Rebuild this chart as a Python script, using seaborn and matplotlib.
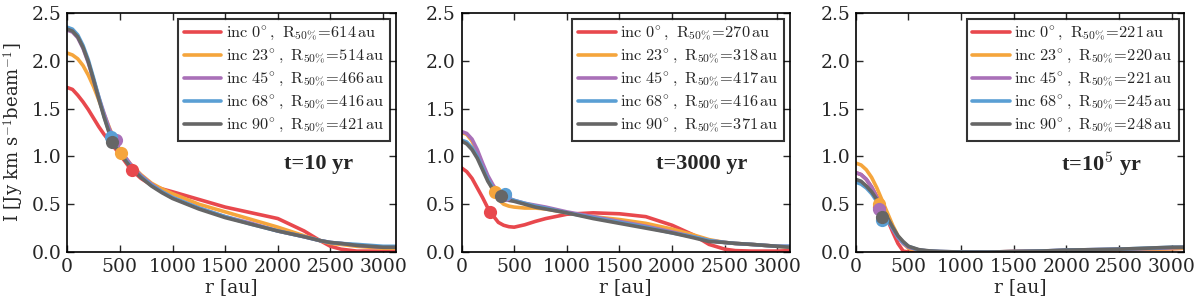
import numpy as np
import matplotlib
matplotlib.use("Agg")
import matplotlib.pyplot as plt
import seaborn as sns

# inclinations and colours
incs = [0, 23, 45, 68, 90]
colors = ["#e8484d", "#f5a53c", "#a970b8", "#5a9fd4", "#666666"]
times = ["t=10 yr", "t=3000 yr", r"t=10$^{\mathbf{5}}$ yr"]

# ---- panel 1: t = 10 yr ----
r1 = [0, 50, 100, 150, 200, 250, 300, 350, 400, 450, 500, 600, 700, 800, 900, 1000,
      1250, 1500, 1750, 2000, 2250, 2400, 2500, 2600, 2750, 3000, 3120]
p1_red = [1.72, 1.70, 1.64, 1.57, 1.49, 1.40, 1.31, 1.23, 1.16, 1.09, 1.02, 0.87, 0.77, 0.70, 0.66, 0.63,
          0.55, 0.47, 0.41, 0.35, 0.22, 0.12, 0.06, 0.03, 0.01, 0.01, 0.015]
p1_orange = [2.08, 2.06, 2.02, 1.95, 1.85, 1.73, 1.59, 1.44, 1.30, 1.17, 1.06, 0.92, 0.81, 0.72, 0.66, 0.61,
             0.50, 0.42, 0.34, 0.26, 0.17, 0.12, 0.09, 0.08, 0.06, 0.04, 0.04]
p1_purple = [2.32, 2.30, 2.24, 2.13, 1.98, 1.80, 1.62, 1.45, 1.29, 1.17, 1.07, 0.92, 0.80, 0.71, 0.63, 0.57,
             0.46, 0.37, 0.30, 0.22, 0.16, 0.12, 0.10, 0.09, 0.07, 0.05, 0.05]
p1_blue = [2.35, 2.33, 2.27, 2.16, 2.01, 1.82, 1.62, 1.42, 1.25, 1.13, 1.04, 0.90, 0.79, 0.70, 0.63, 0.57,
           0.46, 0.37, 0.29, 0.22, 0.16, 0.12, 0.10, 0.09, 0.08, 0.06, 0.06]
p1_grey = [2.33, 2.31, 2.25, 2.14, 1.99, 1.80, 1.60, 1.41, 1.24, 1.12, 1.03, 0.89, 0.78, 0.69, 0.62, 0.56,
           0.45, 0.36, 0.29, 0.22, 0.16, 0.12, 0.10, 0.09, 0.07, 0.05, 0.05]
p1_r50 = [614, 514, 466, 416, 421]
p1_i50 = [0.86, 1.04, 1.17, 1.20, 1.15]

# ---- panel 2: t = 3000 yr ----
r2 = [0, 50, 100, 150, 200, 250, 300, 350, 400, 450, 500, 600, 700, 800, 1000,
      1250, 1500, 1750, 2000, 2200, 2350, 2500, 2600, 2750, 3000, 3120]
p2_red = [0.88, 0.84, 0.77, 0.67, 0.57, 0.46, 0.38, 0.31, 0.28, 0.265, 0.26, 0.285, 0.32, 0.35, 0.395,
          0.41, 0.40, 0.37, 0.28, 0.18, 0.08, 0.03, 0.015, 0.01, 0.01, 0.015]
p2_orange = [1.25, 1.23, 1.16, 1.05, 0.91, 0.77, 0.64, 0.55, 0.50, 0.48, 0.47, 0.46, 0.46, 0.45, 0.41,
             0.37, 0.34, 0.30, 0.24, 0.18, 0.13, 0.10, 0.09, 0.08, 0.06, 0.05]
p2_purple = [1.26, 1.24, 1.18, 1.07, 0.93, 0.80, 0.70, 0.62, 0.58, 0.56, 0.54, 0.51, 0.49, 0.47, 0.42,
             0.37, 0.32, 0.27, 0.21, 0.16, 0.12, 0.10, 0.09, 0.08, 0.06, 0.06]
p2_blue = [1.17, 1.15, 1.09, 1.00, 0.88, 0.76, 0.67, 0.62, 0.59, 0.56, 0.54, 0.51, 0.48, 0.46, 0.41,
           0.36, 0.31, 0.26, 0.20, 0.16, 0.12, 0.10, 0.09, 0.08, 0.06, 0.06]
p2_grey = [1.16, 1.13, 1.07, 0.98, 0.86, 0.74, 0.65, 0.59, 0.56, 0.54, 0.53, 0.50, 0.47, 0.45, 0.41,
           0.35, 0.30, 0.25, 0.20, 0.15, 0.11, 0.10, 0.09, 0.08, 0.06, 0.05]
p2_r50 = [270, 318, 417, 416, 371]
p2_i50 = [0.42, 0.63, 0.60, 0.61, 0.59]

# ---- panel 3: t = 1e5 yr ----
r3 = [0, 50, 100, 150, 200, 250, 300, 350, 400, 450, 500, 600, 700, 800, 1000,
      1250, 1500, 1750, 2000, 2250, 2500, 2750, 3000, 3120]
p3_red = [0.83, 0.81, 0.76, 0.68, 0.58, 0.46, 0.34, 0.21, 0.09, 0.01, 0.0, 0.0, 0.0, 0.0, 0.0,
          0.0, 0.005, 0.01, 0.015, 0.02, 0.025, 0.03, 0.035, 0.04]
p3_orange = [0.93, 0.91, 0.86, 0.78, 0.67, 0.54, 0.41, 0.28, 0.17, 0.09, 0.04, 0.01, 0.005, 0.0, 0.0,
             0.0, 0.005, 0.01, 0.015, 0.02, 0.025, 0.03, 0.035, 0.04]
p3_purple = [0.83, 0.81, 0.76, 0.68, 0.57, 0.45, 0.34, 0.24, 0.15, 0.09, 0.05, 0.02, 0.01, 0.005, 0.0,
             0.0, 0.005, 0.01, 0.02, 0.025, 0.03, 0.035, 0.045, 0.05]
p3_blue = [0.73, 0.71, 0.67, 0.61, 0.53, 0.44, 0.34, 0.25, 0.16, 0.10, 0.06, 0.02, 0.01, 0.005, 0.0,
           0.0, 0.005, 0.01, 0.02, 0.025, 0.03, 0.04, 0.05, 0.05]
p3_grey = [0.76, 0.74, 0.69, 0.63, 0.55, 0.46, 0.36, 0.26, 0.17, 0.11, 0.06, 0.025, 0.012, 0.006, 0.0,
           0.0, 0.005, 0.01, 0.02, 0.025, 0.03, 0.04, 0.05, 0.05]
p3_r50 = [221, 220, 221, 245, 248]
p3_i50 = [0.47, 0.50, 0.45, 0.33, 0.37]

panels = [
    (r1, [p1_red, p1_orange, p1_purple, p1_blue, p1_grey], p1_r50, p1_i50),
    (r2, [p2_red, p2_orange, p2_purple, p2_blue, p2_grey], p2_r50, p2_i50),
    (r3, [p3_red, p3_orange, p3_purple, p3_blue, p3_grey], p3_r50, p3_i50),
]

sns.set_style("ticks")
plt.rcParams["font.family"] = ["DejaVu Serif"]
plt.rcParams["mathtext.fontset"] = "cm"
plt.rcParams["axes.linewidth"] = 1.2

fig, axes = plt.subplots(1, 3, figsize=(12, 3.07), dpi=100)
fig.subplots_adjust(left=0.056, right=0.987, bottom=0.179, top=0.958, wspace=0.2)

for k, (ax, (r, series, r50, i50)) in enumerate(zip(axes, panels)):
    for j in range(5):
        label = r"$\mathrm{inc\ %d^{\circ}\,,\ R_{50\%%}\!=\!%d\,au}$" % (incs[j], r50[j])
        sns.lineplot(x=r, y=series[j], ax=ax, color=colors[j], lw=2.6, label=label)
    for j in range(5):
        ax.plot(r50[j], i50[j], "o", color=colors[j], ms=9.5, mec="none", zorder=5)
    ax.set_xlim(0, 3120)
    ax.set_ylim(0, 2.5)
    ax.set_xticks([0, 500, 1000, 1500, 2000, 2500, 3000])
    ax.set_yticks([0.0, 0.5, 1.0, 1.5, 2.0, 2.5])
    ax.tick_params(direction="in", length=5, width=1, top=True, right=True, labelsize=13.5, pad=4)
    for s in ax.spines.values():
        s.set_color("black")
    ax.set_xlabel("r [au]", fontsize=13.5, labelpad=2)
    ax.set_ylabel("")
    leg = ax.legend(loc="upper right", fontsize=11.8, frameon=True, fancybox=False,
                    handlelength=2.3, handletextpad=0.25, borderpad=0.35, labelspacing=0.24,
                    borderaxespad=0.35)
    leg.get_frame().set_edgecolor("black")
    leg.get_frame().set_linewidth(1.5)
    ax.text(0.87, 0.37, times[k], transform=ax.transAxes, ha="right", va="center",
            fontsize=16, fontweight="bold", family="Liberation Serif")

axes[0].set_ylabel(r"I [Jy km s$^{-1}$beam$^{-1}$]", fontsize=13, labelpad=4)

fig.savefig("out.png", dpi=100)
